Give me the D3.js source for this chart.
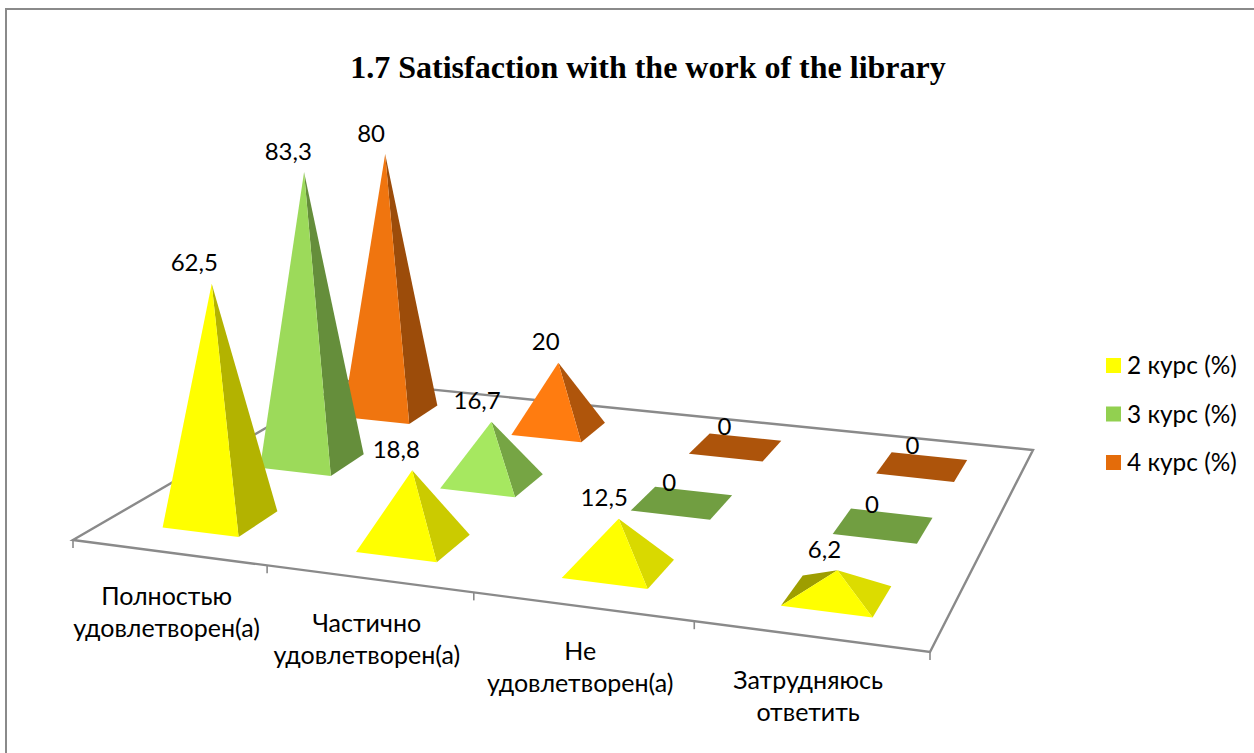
<!DOCTYPE html>
<html><head><meta charset="utf-8">
<script src="https://cdnjs.cloudflare.com/ajax/libs/d3/7.8.5/d3.min.js"></script>
<style>html,body{margin:0;padding:0;background:#fff}svg{display:block}</style>
</head><body>
<svg id="c" width="1254" height="753"></svg>
<script>
const title = "1.7 Satisfaction with the work of the library";
const categories = ["Полностью удовлетворен(а)", "Частично удовлетворен(а)", "Не удовлетворен(а)", "Затрудняюсь ответить"];
const categoryLines = [["Полностью","удовлетворен(а)"],["Частично","удовлетворен(а)"],["Не","удовлетворен(а)"],["Затрудняюсь","ответить"]];
const seriesNames = ["2 курс (%)", "3 курс (%)", "4 курс (%)"];
const series2 = [62.5, 18.8, 12.5, 6.2];
const series3 = [83.3, 16.7, 0, 0];
const series4 = [80, 20, 0, 0];
const seriesValues = [series2, series3, series4];
const legendColors = ["#ffff00", "#92d050", "#e46c0a"];
const faceBase = [[293,293,0],[166,232,96],[255,124,16]];

const UIFONT = "Lato, 'Open Sans', sans-serif";
const LINE = "#8a8a8a";
const svg = d3.select("#c");
svg.append("rect").attr("x",6).attr("y",9).attr("width",1300).attr("height",800)
  .attr("fill","#fff").attr("stroke",LINE).attr("stroke-width",2);

// Floor plane: perspective mapping of the unit square
const corner = {fl:[73,540], fr:[930,652], br:[1033,450], bl:[347,381]};
const sx = corner.fl[0]-corner.fr[0]+corner.br[0]-corner.bl[0];
const sy = corner.fl[1]-corner.fr[1]+corner.br[1]-corner.bl[1];
const d1x = corner.fr[0]-corner.br[0], d1y = corner.fr[1]-corner.br[1];
const d2x = corner.bl[0]-corner.br[0], d2y = corner.bl[1]-corner.br[1];
const den = d1x*d2y-d2x*d1y;
const G = (sx*d2y-d2x*sy)/den, H = (d1x*sy-sx*d1y)/den;
const A = corner.fr[0]-corner.fl[0]+G*corner.fr[0], B = corner.bl[0]-corner.fl[0]+H*corner.bl[0];
const D = corner.fr[1]-corner.fl[1]+G*corner.fr[1], E = corner.bl[1]-corner.fl[1]+H*corner.bl[1];
const wOf = (u,v)=>G*u+H*v+1;
const floorPt = (u,v)=>[(A*u+B*v+corner.fl[0])/wOf(u,v),(D*u+E*v+corner.fl[1])/wOf(u,v)];

const uScale = d3.scaleBand().domain(d3.range(categories.length)).range([0,1]).paddingInner(.6).paddingOuter(.3);
const vScale = d3.scaleBand().domain(d3.range(seriesNames.length)).range([0,1]).paddingInner(.6).paddingOuter(.3);
const zScale = d3.scaleLinear().domain([0,100]).range([0,388]); // height at unit perspective depth
const LEAN_X0 = 600, LEAN = 1e-4;
const line = d3.line();

// Floor
const floorGroup = svg.append("g");
floorGroup.append("path")
  .attr("d", line([corner.fl,corner.fr,corner.br,corner.bl])+"Z")
  .attr("fill","#fff").attr("stroke",LINE).attr("stroke-width",2.4);
const tickScale = d3.scaleLinear().domain([0,categories.length]).range([0,1]);
d3.range(categories.length+1).forEach(i=>{
  const p = floorPt(tickScale(i),0);
  floorGroup.append("line").attr("x1",p[0]).attr("y1",p[1]).attr("x2",p[0]).attr("y2",p[1]+8)
    .attr("stroke",LINE).attr("stroke-width",1.6);
});

// Shading
const rightMult = d3.scaleLinear().domain([6,13,19,60]).range([.75,.74,.69,.61]).clamp(true);
const frontMult = d3.scaleLinear().domain([20,60]).range([1,.94]).clamp(true);
const shade = (base,m)=>{const c=d3.rgb(Math.min(255,base[0]*m),Math.min(255,base[1]*m),Math.min(255,base[2]*m));return c.formatHex();};

const chart = svg.append("g");
const labels = [];
for (let s=seriesNames.length-1; s>=0; s--) {
  for (let c=0; c<categories.length; c++) {
    const val = seriesValues[s][c];
    const u0=uScale(c), u1=u0+uScale.bandwidth(), v0=vScale(s), v1=v0+vScale.bandwidth();
    const FL=floorPt(u0,v0), FR=floorPt(u1,v0), BR=floorPt(u1,v1), BL=floorPt(u0,v1);
    const um=(u0+u1)/2, vm=(v0+v1)/2;
    const C=floorPt(um,vm);
    const h=zScale(val)/wOf(um,vm);
    const apex=[C[0]+(C[0]-LEAN_X0)*h*LEAN, C[1]-h];
    if (val===0) {
      chart.append("path").attr("d",line([FL,FR,BR,BL])+"Z").attr("fill",shade(faceBase[s],.68));
    } else {
      // the left face only shows when the apex leans inside its base edge
      if (d3.polygonArea([FL,BL,apex]) < -50)
        chart.append("path").attr("d",line([FL,BL,apex])+"Z").attr("fill",shade(faceBase[s],.54));
      chart.append("path").attr("d",line([FR,BR,apex])+"Z").attr("fill",shade(faceBase[s],rightMult(val)));
      chart.append("path").attr("d",line([FL,FR,apex])+"Z").attr("fill",shade(faceBase[s],frontMult(val)));
    }
    labels.push({x:apex[0]-19+6*um+5*vm,y:apex[1]-21,t:String(val).replace(".",",")});
  }
}
// Data labels
svg.append("g").selectAll("text").data(labels).join("text")
  .attr("x",d=>d.x).attr("y",d=>d.y).attr("dy","0.36em").attr("text-anchor","middle")
  .attr("font-family",UIFONT).attr("font-size",24).attr("fill","#000").text(d=>d.t);

// Category labels
categories.forEach((cat,i)=>{
  const p=floorPt(uScale(i)+uScale.bandwidth()/2,0);
  const t=svg.append("text").attr("text-anchor","middle").attr("font-family",UIFONT).attr("font-size",25).attr("fill","#000");
  categoryLines[i].forEach((l,j)=>t.append("tspan").attr("x",p[0]-2).attr("y",p[1]+53+j*32).text(l));
});

// Title
svg.append("text").attr("x",648).attr("y",78).attr("text-anchor","middle")
  .attr("font-family","'Liberation Serif', serif").attr("font-weight","bold").attr("font-size",32).text(title);

// Legend
const legY = d3.scaleLinear().domain([0,2]).range([366,463]);
seriesNames.forEach((n,i)=>{
  svg.append("rect").attr("x",1106).attr("y",legY(i)-8).attr("width",15).attr("height",15).attr("fill",legendColors[i]);
  svg.append("text").attr("x",1127).attr("y",legY(i)+8).attr("font-family",UIFONT).attr("font-size",24.4).text(n);
});
</script>
</body></html>
